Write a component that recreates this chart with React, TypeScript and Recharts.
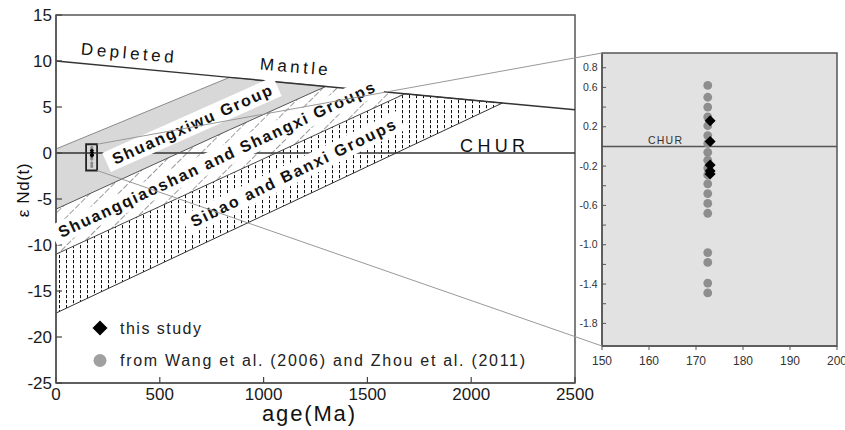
import {
  ComposedChart,
  ScatterChart,
  Area,
  Line,
  Scatter,
  XAxis,
  YAxis,
  ReferenceLine,
  ReferenceArea,
  ReferenceDot,
  CartesianGrid,
  Legend,
} from "recharts";

// evolution bands at the points where the outlines bend
const ages = [0, 836, 1300, 1680, 2150, 2500];
const depletedMantle = [10, 8.22, 7.24, 6.43, 5.43, 4.69];
const shuangxiwuTop = [0.44, 8.22, 7.24, null, null, null];
const shuangxiwuBase = [-6.1, 2.52, 7.24, null, null, null];
const shuangqiaoshanTop = [-6.1, 2.52, 7.24, 6.43, null, null];
const shuangqiaoshanBase = [-11.0, -2.33, 2.49, 6.43, null, null];
const sibaoTop = [-11.0, -2.33, 2.49, 6.43, 5.43, null];
const sibaoBase = [-17.4, -8.52, -3.6, 0.44, 5.43, null];

const xTicks = [0, 500, 1000, 1500, 2000, 2500];
const yTicks = [-25, -20, -15, -10, -5, 0, 5, 10, 15];

// samples
const thisStudyAge = 173.0;
const thisStudyEnd = [0.26, 0.05, -0.19, -0.25, -0.28];
const publishedAge = 172.5;
const publishedEnd = [
  0.62, 0.5, 0.4, 0.3, 0.21, 0.11, 0.03, -0.06, -0.14, -0.22, -0.29, -0.38,
  -0.48, -0.58, -0.68, -1.08, -1.18, -1.39, -1.49,
];

const insetXTicks = [150, 160, 170, 180, 190, 200];
const insetYTicks = [0.8, 0.6, 0.4, 0.2, -0.2, -0.4, -0.6, -0.8, -1.0, -1.2, -1.4, -1.6, -1.8];
const insetYLabels = ["0.8", "0.6", "", "0.2", "-0.2", "", "-0.6", "", "-1.0", "", "-1.4", "", "-1.8"];

const seriesNames = ["this study", "from Wang et al. (2006) and Zhou et al. (2011)"];

const FONT = '"Liberation Sans", Arial, sans-serif';

// layout
const H = 430;
const MAIN_W = 600;
const MAIN_MARGIN = { top: 15, right: 25, bottom: 0, left: 0 };
const MAIN_YAXIS_W = 56;
const MAIN_XAXIS_H = 47;
const X_DOMAIN = [0, 2500];
const Y_DOMAIN = [-25, 15];

const INSET_LEFT = 560;
const INSET_W = 285;
const INSET_MARGIN = { top: 53, right: 8, bottom: 0, left: 0 };
const INSET_YAXIS_W = 42;
const INSET_XAXIS_H = 84;
const INSET_X_DOMAIN = [150, 200];
const INSET_Y_DOMAIN = [-2.03, 0.95];

// window drawn around the samples in the main plot
const zoomBox = { x1: 145, x2: 198, y1: -1.9, y2: 0.95 };

const band = (lo: number | null, hi: number | null) =>
  lo == null || hi == null ? null : [lo, hi];

const mainData = ages.map((age, i) => ({
  age,
  dm: depletedMantle[i],
  sxTop: shuangxiwuTop[i],
  sxBase: shuangxiwuBase[i],
  sbTop: sibaoTop[i],
  sbBase: sibaoBase[i],
  shuangxiwu: band(shuangxiwuBase[i], shuangxiwuTop[i]),
  shuangqiaoshan: band(shuangqiaoshanBase[i], shuangqiaoshanTop[i]),
  sibao: band(sibaoBase[i], sibaoTop[i]),
}));

const thisStudy = thisStudyEnd.map((v) => ({ age: thisStudyAge, value: v }));
const published = publishedEnd.map((v) => ({ age: publishedAge, value: v }));

// text placed on the main plot (data coordinates of the text centre)
const annotations = [
  { text: "Depleted", age: 344, end: 10.85, angle: 5, len: 93, size: 17, bold: false, box: false },
  { text: "Mantle", age: 1146, end: 9.35, angle: 5, len: 68, size: 17, bold: false, box: false },
  { text: "CHUR", age: 2103, end: 0.72, angle: 0, len: 65, size: 18, bold: false, box: false },
  { text: "Shuangxiwu Group", age: 655, end: 3.1, angle: -24, len: 173, size: 16, bold: true, box: true },
  { text: "Shuangqiaoshan and Shangxi Groups", age: 773, end: -0.72, angle: -25, len: 347, size: 16, bold: true, box: true },
  { text: "Sibao and Banxi Groups", age: 1142, end: -2.17, angle: -26, len: 226, size: 16, bold: true, box: true },
];

const diamond = (r: number, fill: string) => (p: any) => (
  <path
    d={`M${p.cx},${p.cy - r}L${p.cx + r},${p.cy}L${p.cx},${p.cy + r}L${p.cx - r},${p.cy}Z`}
    fill={fill}
  />
);
const dot = (r: number, fill: string) => (p: any) => (
  <circle cx={p.cx} cy={p.cy} r={r} fill={fill} />
);

const textShape = (a: any) => (p: any) => (
  <g transform={`translate(${p.cx},${p.cy}) rotate(${a.angle})`}>
    {a.box && <rect x={-a.len / 2 - 7} y={-10.5} width={a.len + 14} height={21} fill="#fff" />}
    <text
      x={0}
      y={0}
      textAnchor="middle"
      dominantBaseline="central"
      textLength={a.len}
      lengthAdjust="spacing"
      fontSize={a.size}
      fontWeight={a.bold ? 700 : 400}
      fill="#111"
      fontFamily={FONT}
    >
      {a.text}
    </text>
  </g>
);

const xTitle = (props: any) => {
  const vb = props.viewBox;
  const cx = vb.x + vb.width / 2 - 7;
  return (
    <text x={cx} y={vb.y + 38} textAnchor="middle" fontSize={22} fill="#111" textLength={93} lengthAdjust="spacing" fontFamily={FONT}>
      age(Ma)
    </text>
  );
};

const yTitle = (props: any) => {
  const vb = props.viewBox;
  const cx = vb.x + 23;
  const cy = vb.y + vb.height / 2 - 9;
  return (
    <text
      x={cx}
      y={cy}
      transform={`rotate(-90 ${cx} ${cy})`}
      textAnchor="middle"
      dominantBaseline="central"
      fontSize={17}
      fill="#111"
      letterSpacing={0.6}
      fontFamily={FONT}
    >
      ε Nd(t)
    </text>
  );
};

const legendContent = () => (
  <svg width={440} height={60}>
    {seriesNames.map((name, i) => {
      const cy = i === 0 ? 12 : 44.5;
      return (
        <g key={name}>
          {i === 0 ? diamond(7.5, "#000")({ cx: 10, cy }) : dot(6.5, "#a0a0a0")({ cx: 10, cy })}
          <text
            x={30}
            y={cy}
            dominantBaseline="central"
            fontSize={16}
            fill="#222"
            textLength={i === 0 ? 81 : 405}
            lengthAdjust="spacing"
            fontFamily={FONT}
          >
            {name}
          </text>
        </g>
      );
    })}
  </svg>
);

export default function App() {
  const plotL = MAIN_MARGIN.left + MAIN_YAXIS_W;
  const plotR = MAIN_W - MAIN_MARGIN.right;
  const plotT = MAIN_MARGIN.top;
  const plotB = H - MAIN_MARGIN.bottom - MAIN_XAXIS_H;
  const mx = (v: number) => plotL + ((v - X_DOMAIN[0]) / (X_DOMAIN[1] - X_DOMAIN[0])) * (plotR - plotL);
  const my = (v: number) => plotT + ((Y_DOMAIN[1] - v) / (Y_DOMAIN[1] - Y_DOMAIN[0])) * (plotB - plotT);

  const insetL = INSET_LEFT + INSET_MARGIN.left + INSET_YAXIS_W;
  const insetT = INSET_MARGIN.top;
  const insetB = H - INSET_MARGIN.bottom - INSET_XAXIS_H;

  return (
    <div style={{ position: "absolute", left: 0, top: 0, width: 845, height: H, background: "#fff", fontFamily: FONT }}>
      <div style={{ position: "absolute", left: 0, top: 0 }}>
        <ComposedChart width={MAIN_W} height={H} data={mainData} margin={MAIN_MARGIN}>
          <defs>
            <pattern id="hatchDash" patternUnits="userSpaceOnUse" width={10} height={16} patternTransform="rotate(45)">
              <line x1={0} y1={0} x2={0} y2={16} stroke="#333" strokeWidth={1} strokeDasharray="6 2" />
            </pattern>
            <pattern id="hatchDot" patternUnits="userSpaceOnUse" width={7} height={5}>
              <line x1={3.5} y1={0} x2={3.5} y2={3.2} stroke="#111" strokeWidth={1} />
            </pattern>
          </defs>
          <XAxis
            type="number"
            dataKey="age"
            domain={X_DOMAIN}
            ticks={xTicks}
            interval={0}
            height={MAIN_XAXIS_H}
            tickSize={-6}
            tickMargin={11}
            axisLine={{ stroke: "#555", strokeWidth: 1.5 }}
            tickLine={{ stroke: "#444", strokeWidth: 1.2 }}
            tick={{ fill: "#1a1a1a", fontSize: 17 }}
            label={xTitle}
          />
          <YAxis
            type="number"
            domain={Y_DOMAIN}
            ticks={yTicks}
            interval={0}
            width={MAIN_YAXIS_W}
            tickSize={-6}
            tickMargin={10}
            axisLine={{ stroke: "#555", strokeWidth: 1.5 }}
            tickLine={{ stroke: "#444", strokeWidth: 1.2 }}
            tick={{ fill: "#1a1a1a", fontSize: 17 }}
            label={yTitle}
          />
          <Area dataKey="shuangxiwu" type="linear" fill="#d8d8d8" fillOpacity={1} stroke="none" legendType="none" isAnimationActive={false} />
          <Area dataKey="shuangqiaoshan" type="linear" fill="url(#hatchDash)" fillOpacity={1} stroke="none" legendType="none" isAnimationActive={false} />
          <Area dataKey="sibao" type="linear" fill="url(#hatchDot)" fillOpacity={1} stroke="none" legendType="none" isAnimationActive={false} />
          <ReferenceLine y={0} stroke="#333" strokeWidth={1.5} />
          <Line dataKey="sxTop" type="linear" stroke="#8a8a8a" strokeWidth={1} dot={false} legendType="none" isAnimationActive={false} />
          <Line dataKey="sxBase" type="linear" stroke="#555" strokeWidth={1} dot={false} legendType="none" isAnimationActive={false} />
          <Line dataKey="sbTop" type="linear" stroke="#444" strokeWidth={1} dot={false} legendType="none" isAnimationActive={false} />
          <Line dataKey="sbBase" type="linear" stroke="#333" strokeWidth={1} dot={false} legendType="none" isAnimationActive={false} />
          <Line dataKey="dm" type="linear" stroke="#333" strokeWidth={1.5} dot={false} legendType="none" isAnimationActive={false} />
          {annotations.map((a) => (
            <ReferenceDot key={a.text} x={a.age} y={a.end} r={0} shape={textShape(a)} />
          ))}
          <ReferenceArea x1={zoomBox.x1} x2={zoomBox.x2} y1={zoomBox.y1} y2={zoomBox.y2} fill="none" stroke="#222" strokeWidth={1.8} />
          <Scatter name={seriesNames[1]} data={published} dataKey="value" shape={dot(1.4, "#8a8a8a")} isAnimationActive={false} />
          <Scatter name={seriesNames[0]} data={thisStudy} dataKey="value" shape={diamond(2.2, "#000")} isAnimationActive={false} />
          <ReferenceArea x1={X_DOMAIN[0]} x2={X_DOMAIN[1]} y1={Y_DOMAIN[0]} y2={Y_DOMAIN[1]} fill="none" stroke="#555" strokeWidth={1.5} />
          <Legend
            layout="vertical"
            align="center"
            verticalAlign="middle"
            content={legendContent}
            wrapperStyle={{ left: 90, top: 316, width: 440, height: 60 }}
          />
        </ComposedChart>
      </div>

      <div style={{ position: "absolute", left: INSET_LEFT, top: 0 }}>
        <ScatterChart width={INSET_W} height={H} margin={INSET_MARGIN}>
          <CartesianGrid horizontal={false} vertical={false} fill="#e2e2e2" />
          <XAxis
            type="number"
            dataKey="age"
            domain={INSET_X_DOMAIN}
            ticks={insetXTicks}
            interval={0}
            height={INSET_XAXIS_H}
            tickSize={4}
            tickMargin={6}
            axisLine={{ stroke: "#555", strokeWidth: 1.5 }}
            tickLine={{ stroke: "#555" }}
            tick={{ fill: "#333", fontSize: 12 }}
          />
          <YAxis
            type="number"
            dataKey="value"
            domain={INSET_Y_DOMAIN}
            allowDataOverflow
            ticks={insetYTicks}
            interval={0}
            width={INSET_YAXIS_W}
            tickSize={-4}
            tickMargin={8.5}
            tickFormatter={(v: number) => insetYLabels[insetYTicks.indexOf(v)] ?? ""}
            axisLine={{ stroke: "#555", strokeWidth: 1.5 }}
            tickLine={{ stroke: "#555" }}
            tick={{ fill: "#333", fontSize: 10.5 }}
          />
          <ReferenceLine y={0} stroke="#555" strokeWidth={1.5} />
          <ReferenceDot
            x={163.4}
            y={0}
            r={0}
            shape={(p: any) => (
              <text x={p.cx} y={p.cy - 2} textAnchor="middle" fontSize={10.5} fill="#333" textLength={34} lengthAdjust="spacing" fontFamily={FONT}>
                CHUR
              </text>
            )}
          />
          <Scatter name={seriesNames[1]} data={published} shape={dot(4.4, "#8e8e8e")} isAnimationActive={false} />
          <Scatter name={seriesNames[0]} data={thisStudy} shape={diamond(5.5, "#000")} isAnimationActive={false} />
          <ReferenceArea
            x1={INSET_X_DOMAIN[0]}
            x2={INSET_X_DOMAIN[1]}
            y1={INSET_Y_DOMAIN[0]}
            y2={INSET_Y_DOMAIN[1]}
            fill="none"
            stroke="#555"
            strokeWidth={1.5}
          />
        </ScatterChart>
      </div>

      {/* lines tying the sample window to the enlarged panel */}
      <svg width={845} height={H} style={{ position: "absolute", left: 0, top: 0, pointerEvents: "none" }}>
        <line x1={mx(zoomBox.x2)} y1={my(zoomBox.y2)} x2={insetL} y2={insetT} stroke="#999" strokeWidth={1} />
        <line x1={mx(zoomBox.x2)} y1={my(zoomBox.y1)} x2={insetL} y2={insetB} stroke="#999" strokeWidth={1} />
      </svg>
    </div>
  );
}
